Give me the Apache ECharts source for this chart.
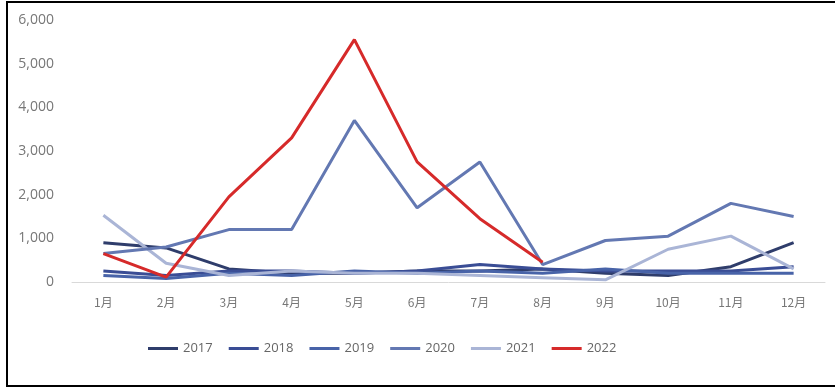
<!DOCTYPE html>
<html>
<head>
<meta charset="utf-8">
<script src="https://cdn.jsdelivr.net/npm/echarts@6/dist/echarts.min.js"></script>
<style>
html,body{margin:0;padding:0;background:#fff;overflow:hidden;}
#frame{position:absolute;left:6px;top:1px;width:840px;height:382px;border:2px solid #000;box-sizing:content-box;}
#chart{position:absolute;left:0;top:0;width:835px;height:388px;}
</style>
</head>
<body>
<div id="frame"></div>
<div id="chart"></div>
<script>
var months = ['1月','2月','3月','4月','5月','6月','7月','8月','9月','10月','11月','12月'];
var years = ['2017','2018','2019','2020','2021','2022'];
var s2017 = [900, 780, 300, 200, 200, 250, 250, 300, 200, 150, 350, 900];
var s2018 = [250, 150, 250, 250, 200, 250, 400, 300, 250, 250, 250, 350];
var s2019 = [150, 80, 200, 150, 250, 200, 250, 200, 300, 200, 200, 200];
var s2020 = [650, 800, 1200, 1200, 3700, 1700, 2750, 400, 950, 1050, 1800, 1500];
var s2021 = [1530, 430, 150, 250, 200, 200, 150, 100, 50, 750, 1050, 300];
var s2022 = [650, 110, 1950, 3300, 5550, 2750, 1450, 450, null, null, null, null];
var yTicks = [0, 1000, 2000, 3000, 4000, 5000, 6000];

var colors = ['#2f3d6b', '#3a4d95', '#4863a8', '#6378b2', '#aab5d6', '#d62a2a'];
var data = [s2017, s2018, s2019, s2020, s2021, s2022];

var chart = echarts.init(document.getElementById('chart'));
chart.setOption({
  animation: false,
  color: colors,
  grid: {left: 72, right: 10, top: 20, bottom: 106, containLabel: false},
  legend: {
    left: 143, top: 337, itemWidth: 30, itemHeight: 3, itemGap: 16,
    icon: 'rect',
    textStyle: {color: '#666', fontSize: 13, fontFamily: 'Open Sans'},
    data: years
  },
  xAxis: {
    type: 'category', data: months, boundaryGap: true,
    axisLine: {lineStyle: {color: '#d9d9d9', width: 1}},
    axisTick: {show: false},
    axisLabel: {color: '#777', fontSize: 12, margin: 14, fontFamily: 'Noto Sans CJK SC'}
  },
  yAxis: {
    type: 'value', min: yTicks[0], max: yTicks[yTicks.length-1], interval: 1000,
    axisLine: {show: false}, axisTick: {show: false},
    splitLine: {show: false},
    axisLabel: {color: '#777', fontSize: 14, margin: 18, fontFamily: 'Open Sans',
      formatter: function(v){ return v.toLocaleString('en-US'); }}
  },
  series: years.map(function(y, i){
    return {
      name: y, type: 'line', data: data[i], symbol: 'none',
      lineStyle: {width: 3, color: colors[i]},
      z: i === 5 ? 10 : (i === 3 ? 5 : 2)
    };
  })
});
</script>
</body>
</html>
